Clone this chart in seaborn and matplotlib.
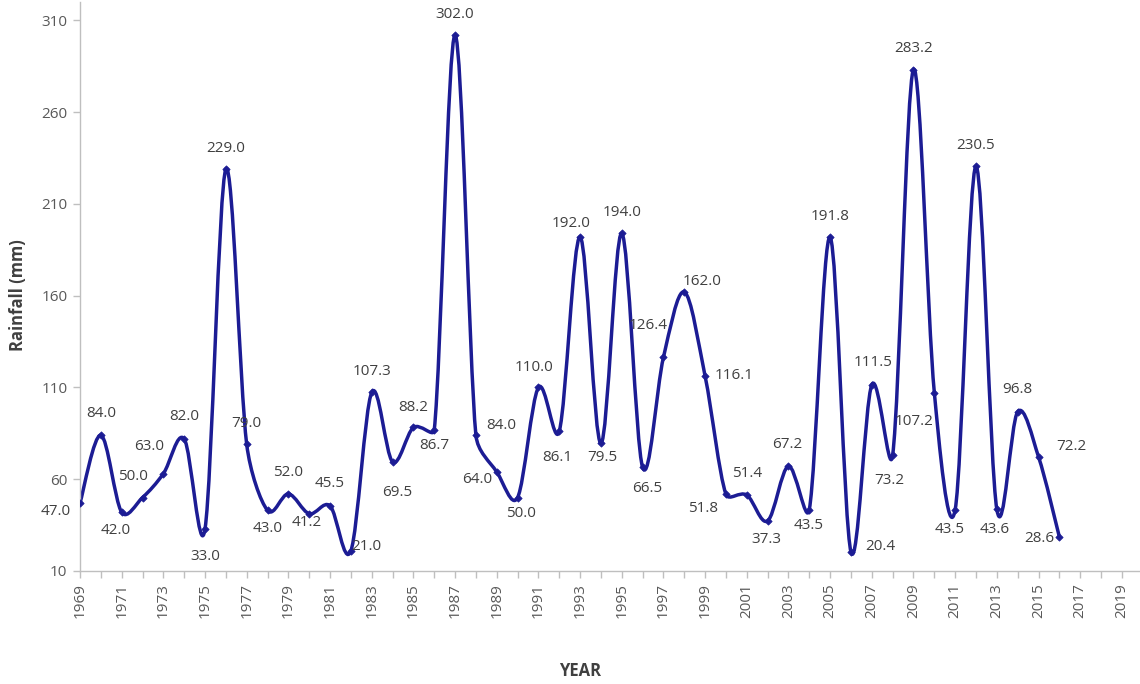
import matplotlib
matplotlib.use("Agg")
import matplotlib.pyplot as plt
import seaborn as sns
import numpy as np
import pandas as pd
from matplotlib.path import Path
from matplotlib.patches import PathPatch
from matplotlib.ticker import MultipleLocator, FixedLocator

# ---- data ----
years = list(range(1969, 2017))
rainfall = [47.0, 84.0, 42.0, 50.0, 63.0, 82.0, 33.0, 229.0, 79.0, 43.0,
            52.0, 41.2, 45.5, 21.0, 107.3, 69.5, 88.2, 86.7, 302.0, 84.0,
            64.0, 50.0, 110.0, 86.1, 192.0, 79.5, 194.0, 66.5, 126.4, 162.0,
            116.1, 51.8, 51.4, 37.3, 67.2, 43.5, 191.8, 20.4, 111.5, 73.2,
            283.2, 107.2, 43.5, 230.5, 43.6, 96.8, 72.2, 28.6]
y_ticks = [10, 60, 110, 160, 210, 260, 310]
x_tick_labels = list(range(1969, 2020, 2))

# label placement (pixel offsets, image coordinates: +dy = down)
label_offsets = [(-24, 8), (0, -22), (-6, 18), (-10, -21), (-14, -27), (0, -22), (0, 28),
                 (0, -21), (0, -21), (0, 18), (0, -21), (-2, 9), (0, -22), (15, -4),
                 (0, -21), (5, 31), (0, -20), (0, 15), (0, -21), (25, -10), (-20, 8),
                 (3, 16), (-4, -20), (-2, 26), (-9, -13), (1, 14), (0, -21), (5, 21),
                 (-15, -32), (18, -11), (29, -1), (-23, 14), (0, -22), (-1, 19),
                 (-1, -22), (-1, 16), (0, -21), (29, -5), (1, -22), (-3, 26),
                 (0, -21), (-20, 29), (-6, 20), (0, -21), (-2, 20), (0, -22),
                 (33, -10), (-20, 2)]

df = pd.DataFrame({"Year": years, "Rainfall": rainfall})

sns.set_theme(style="white")
plt.rcParams["font.family"] = ["Open Sans", "DejaVu Sans"]

LINE = "#1c1c94"
GRAY = "#595959"
AXC = "#bfbfbf"

fig = plt.figure(figsize=(11.4, 6.84), dpi=100)
ax = fig.add_axes([80 / 1140, 113 / 684, 1 - 80 / 1140, 569 / 684])

# smoothed curve (Excel-like Bezier smoothing through the data points),
# computed in screen-proportional units so tangents are capped per segment
SX, SY = 20.84, 1.837
P = df[["Year", "Rainfall"]].to_numpy(dtype=float) * np.array([SX, SY])
n = len(P)


def ctrl(i, j, sign):
    """control point near P[i] on segment i-j"""
    a = P[i - 1] if i > 0 else P[i]
    b = P[i + 1] if i + 1 < n else P[i]
    t = (b - a) / 6.0
    seg = np.linalg.norm(P[j] - P[i])
    m = np.linalg.norm(t)
    cap = 0.4 * seg
    if m > cap and m > 0:
        t = t * cap / m
    return P[i] + sign * t


verts = [tuple(P[0])]
codes = [Path.MOVETO]
for i in range(n - 1):
    c1 = ctrl(i, i + 1, 1.0)
    c2 = ctrl(i + 1, i, -1.0)
    verts += [tuple(c1), tuple(c2), tuple(P[i + 1])]
    codes += [Path.CURVE4] * 3
verts = np.array(verts) / np.array([SX, SY])
ax.add_patch(PathPatch(Path(verts, codes), facecolor="none", edgecolor=LINE,
                       lw=2.5, transform=ax.transData, zorder=2, capstyle="round",
                       joinstyle="round"))

sns.scatterplot(data=df, x="Year", y="Rainfall", ax=ax, marker="D", s=14,
                color=LINE, edgecolor=LINE, linewidth=0.5, zorder=3, legend=False)

for x, v, (dx, dy) in zip(years, rainfall, label_offsets):
    ax.annotate(f"{v:.1f}", (x, v), xytext=(dx, -dy), textcoords="offset pixels",
                ha="center", va="center", fontsize=11, color="#404040", zorder=4)

ax.set_xlim(1969, 2019.87)
ax.set_ylim(10, 320)
ax.yaxis.set_major_locator(FixedLocator(y_ticks))
ax.set_yticklabels([str(t) for t in y_ticks])
ax.xaxis.set_major_locator(FixedLocator(x_tick_labels))
ax.set_xticklabels([str(t) for t in x_tick_labels], rotation=90)
ax.xaxis.set_minor_locator(MultipleLocator(1))

for s in ["top", "right"]:
    ax.spines[s].set_visible(False)
for s in ["left", "bottom"]:
    ax.spines[s].set_color(AXC)
    ax.spines[s].set_linewidth(1.0)

ax.tick_params(axis="both", which="both", direction="out", color=AXC,
               labelcolor=GRAY, labelsize=11)
ax.tick_params(axis="x", which="both", length=5, width=1, bottom=True, pad=4)
ax.tick_params(axis="y", which="major", length=5, width=1, left=True, pad=4)
ax.grid(False)

ax.set_xlabel("")
ax.set_ylabel("")
fig.text(580 / 1140, 1 - 671 / 684, "YEAR", ha="center", va="center",
         fontsize=12, fontweight="bold", color="#404040")
fig.text(18 / 1140, 1 - 295 / 684, "Rainfall (mm)", ha="center", va="center",
         rotation=90, fontsize=12, fontweight="bold", color="#404040")

fig.savefig("out.png", dpi=100, facecolor="white")
